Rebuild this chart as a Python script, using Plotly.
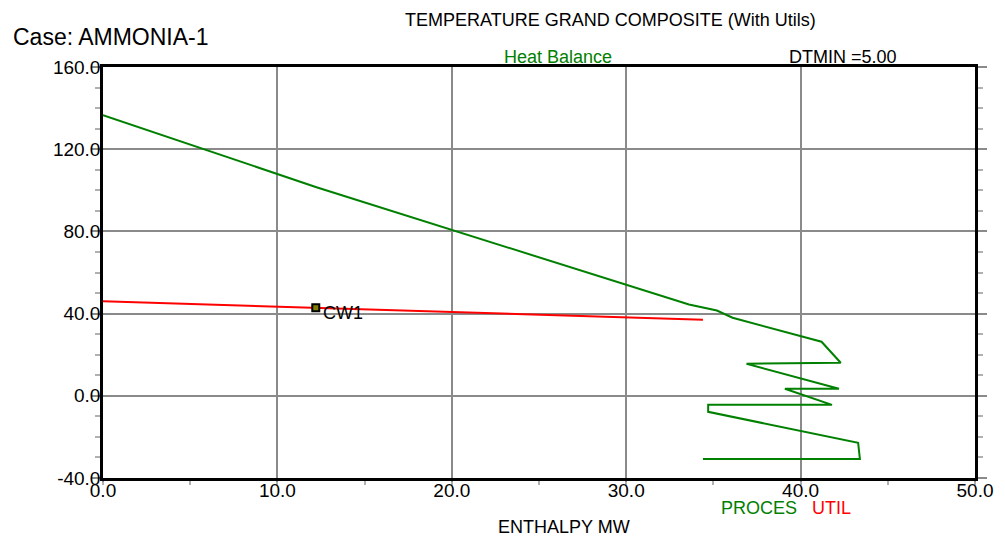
import plotly.graph_objects as go

# Process grand composite curve (enthalpy MW, temperature)
proc_h = [0.0, 12.24, 33.6, 35.2, 36.1, 41.2, 42.3, 36.9, 42.2, 39.1, 41.8, 34.7, 34.7, 43.3, 43.4, 34.4]
proc_t = [136.6, 101.5, 44.4, 41.5, 38.0, 26.3, 16.1, 15.6, 3.4, 3.4, -4.4, -4.4, -7.8, -22.9, -30.7, -30.7]

# Utility (cooling water) line
util_h = [0.0, 34.4]
util_t = [46.0, 37.0]

# Utility label point
cw_h = [12.2]
cw_t = [42.8]
cw_name = ["CW1"]

x_ticks = [0, 10, 20, 30, 40, 50]
y_ticks = [-40, 0, 40, 80, 120, 160]

FONT = "Liberation Sans, Arial"
GRID = "#8a8a8a"

fig = go.Figure()
fig.add_trace(go.Scatter(x=proc_h, y=proc_t, mode="lines",
                         line=dict(color="#008000", width=2), showlegend=False))
fig.add_trace(go.Scatter(x=util_h, y=util_t, mode="lines",
                         line=dict(color="#ff0000", width=2), showlegend=False))
fig.add_trace(go.Scatter(x=cw_h, y=cw_t, mode="markers",
                         marker=dict(symbol="square", size=7, color="#808000",
                                     line=dict(color="black", width=2)),
                         showlegend=False))

for h, t, n in zip(cw_h, cw_t, cw_name):
    fig.add_annotation(x=h, y=t, text=n, showarrow=False, xanchor="left", yanchor="middle",
                       xshift=5, yshift=-5, font=dict(family=FONT, size=18, color="black"))

def ptext(x, y, text, color="black", size=18, xanchor="center"):
    fig.add_annotation(x=x, y=y, xref="paper", yref="paper", text=text, showarrow=False,
                       xanchor=xanchor, yanchor="middle",
                       font=dict(family=FONT, size=size, color=color))

ptext(-0.1059, 1.073, "Case: AMMONIA-1", size=23, xanchor="left")
ptext(0.582, 1.114, "TEMPERATURE GRAND COMPOSITE (With Utils)")
ptext(0.5216, 1.0238, "Heat Balance", color="#008000")
ptext(0.8485, 1.0238, "DTMIN =5.00")
ptext(0.7528, -0.0735, "PROCES", color="#008000")
ptext(0.836, -0.0735, "UTIL", color="#ff0000")
ptext(0.5285, -0.119, "ENTHALPY MW")

fig.update_xaxes(range=[0, 50], tickvals=x_ticks, ticktext=[f"{v:.1f}" for v in x_ticks],
                 showgrid=True, gridcolor=GRID, gridwidth=2, zeroline=False,
                 showline=True, linecolor="black", linewidth=2.5, mirror=True,
                 ticks="outside", ticklen=1, tickcolor=GRID, tickwidth=1.5,
                 ticklabelstandoff=-8,
                 minor=dict(dtick=5, tick0=0, ticks="outside", ticklen=4, tickcolor="#b0b0b0", showgrid=False),
                 tickfont=dict(family=FONT, size=19, color="black"))
fig.update_yaxes(range=[-40, 160], tickvals=y_ticks, ticktext=[f"{v:.1f}" for v in y_ticks],
                 showgrid=True, gridcolor=GRID, gridwidth=2, zeroline=False,
                 showline=True, linecolor="black", linewidth=2.5, mirror="ticks",
                 ticks="outside", ticklen=9, tickcolor=GRID, tickwidth=2,
                 ticklabelstandoff=-13,
                 minor=dict(dtick=10, tick0=0, ticks="outside", ticklen=5, tickcolor="#b0b0b0", showgrid=False),
                 tickfont=dict(family=FONT, size=19, color="black"))

fig.update_layout(width=1005, height=538, margin=dict(l=103, r=24, t=67, b=60),
                  paper_bgcolor="white", plot_bgcolor="white", showlegend=False)

fig.write_html("out.html")
